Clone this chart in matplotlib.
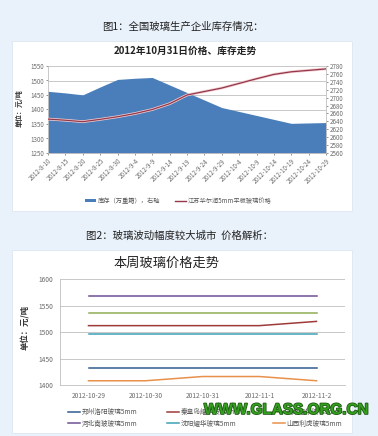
import matplotlib
matplotlib.use('Agg')
import matplotlib.pyplot as plt
from matplotlib.patches import Rectangle
from matplotlib.lines import Line2D
import matplotlib.patheffects as pe

plt.rcParams['font.family'] = ['Noto Sans CJK SC', 'DejaVu Sans']

# ---- data: chart 1 ----
dates1 = ['2012-8-10', '2012-8-15', '2012-8-20', '2012-8-25', '2012-8-30',
          '2012-9-4', '2012-9-9', '2012-9-14', '2012-9-19', '2012-9-24',
          '2012-9-29', '2012-10-4', '2012-10-9', '2012-10-14', '2012-10-19',
          '2012-10-24', '2012-10-29']
stock = [2716, 2712, 2707, 2727, 2746, 2749, 2751, 2732, 2713, 2694,
         2675, 2665, 2655, 2645, 2635, 2636, 2637]
price_js = [1367, 1363, 1358, 1366, 1375, 1386, 1400, 1420, 1450, 1462,
            1474, 1490, 1506, 1521, 1530, 1535, 1540]
left_ticks1 = [1250, 1300, 1350, 1400, 1450, 1500, 1550]
right_ticks1 = [2560, 2580, 2600, 2620, 2640, 2660, 2680, 2700, 2720, 2740, 2760, 2780]

# ---- data: chart 2 ----
dates2 = ['2012-10-29', '2012-10-30', '2012-10-31', '2012-11-1', '2012-11-2']
names2 = ['郑州洛阳玻璃5mm', '秦皇岛耀华玻璃5mm', '天津耀华玻璃5mm',
          '河北南玻玻璃5mm', '沈阳耀华玻璃5mm', '山西利虎玻璃5mm']
zz_luoyang = [1432, 1432, 1432, 1432, 1432]
qhd_yaohua = [1512, 1512, 1512, 1512, 1520]
tj_yaohua = [1536, 1536, 1536, 1536, 1536]
hb_nanbo = [1568, 1568, 1568, 1568, 1568]
sy_yaohua = [1496, 1496, 1496, 1496, 1496]
sx_lihu = [1408, 1408, 1416, 1416, 1408]
colors2 = ['#2F5C8F', '#9E3B3A', '#8FAE55', '#6E4F93', '#3FA0B5', '#E8914A']
left_ticks2 = [1400, 1450, 1500, 1550, 1600]

W, H = 378, 436
def fx(x): return x / W
def fy(y): return 1 - y / H
def box(x0, y0, x1, y1): return [fx(x0), fy(y1), (x1 - x0) / W, (y1 - y0) / H]

fig = plt.figure(figsize=(W / 100, H / 100), dpi=100)
fig.patch.set_facecolor('#E9F1FA')

# white panels
for (x0, y0, x1, y1) in [(12, 41, 352, 211), (12, 250, 352, 433)]:
    fig.patches.append(Rectangle((fx(x0), fy(y1)), (x1 - x0) / W, (y1 - y0) / H,
                                 transform=fig.transFigure, facecolor='white',
                                 edgecolor='#DDE6EF', lw=0.6, zorder=-5))

tick_col = '#6B6B6B'
grid_col = '#BFBFBF'

fig.text(fx(183), fy(27), '图1：全国玻璃生产企业库存情况：', ha='center', va='center',
         fontsize=7.5, color='#222222')
fig.text(fx(185), fy(51), '2012年10月31日价格、库存走势', ha='center', va='center',
         fontsize=7, fontweight='bold', color='#222222')

# ---- chart 1 ----
ax_a = fig.add_axes(box(48, 66, 326, 153))
ax_a.set_facecolor('none')
x1 = list(range(len(dates1)))
for v in left_ticks1[1:]:
    f = (v - left_ticks1[0]) / (left_ticks1[-1] - left_ticks1[0])
    ax_a.plot([0, 1], [f, f], transform=ax_a.transAxes, color=grid_col, lw=0.6, zorder=0)
ax_a.fill_between(x1, right_ticks1[0], stock, color='#4A7EBB', lw=0, zorder=2)
ax_a.set_xlim(0, len(dates1) - 1)
ax_a.set_ylim(right_ticks1[0], right_ticks1[-1])

ax_p = ax_a.twinx()
ax_p.plot(x1, price_js, color='#F3CDD1', lw=2.0, zorder=3)
ax_p.plot(x1, price_js, color='#93374A', lw=0.9, zorder=4)
ax_p.set_ylim(left_ticks1[0], left_ticks1[-1])

# inventory on the right axis, price on the left (twinx flips both by default)
ax_a.yaxis.tick_right()
ax_p.yaxis.tick_left()
ax_a.set_yticks(right_ticks1)
ax_p.set_yticks(left_ticks1)
ax_a.set_xticks(x1)
ax_a.set_xticklabels(dates1, rotation=45, ha='right', rotation_mode='anchor')
ax_a.tick_params(axis='both', labelsize=4.5, colors=tick_col, length=1.5, width=0.5, pad=1.5)
ax_p.tick_params(axis='y', labelsize=4.5, colors=tick_col, length=1.5, width=0.5, pad=1.5)
for s in ['top', 'left']:
    ax_a.spines[s].set_visible(False)
for s in ['right', 'bottom']:
    ax_a.spines[s].set_color(grid_col)
    ax_a.spines[s].set_linewidth(0.6)
for s in ['top', 'right', 'bottom']:
    ax_p.spines[s].set_visible(False)
ax_p.spines['left'].set_visible(True)
ax_p.spines['left'].set_color(grid_col)
ax_p.spines['left'].set_linewidth(0.6)
fig.text(fx(19), fy(108), '单位：元/吨', rotation=90, ha='center', va='center',
         fontsize=5, fontweight='bold', color='#333333')

h1 = [Rectangle((0, 0), 1, 1, facecolor='#4A7EBB'),
      Line2D([], [], color='#93374A', lw=1.0)]
fig.legend(h1, ['库存（万重箱），右轴', '江苏华尔润5mm平板玻璃价格'],
           loc='center', bbox_to_anchor=(fx(178), fy(201)), ncol=2, frameon=False,
           fontsize=4.5, labelcolor='#555555', handlelength=1.8, handleheight=0.4,
           columnspacing=2.4, handletextpad=0.2)

# ---- chart 2 ----
fig.text(fx(180), fy(236), '图2：玻璃波动幅度较大城市  价格解析：', ha='center', va='center',
         fontsize=7.5, color='#222222')
fig.text(fx(167), fy(263), '本周玻璃价格走势', ha='center', va='center',
         fontsize=9.5, color='#222222')

ax2 = fig.add_axes(box(60, 279, 345, 385))
ax2.set_facecolor('none')
x2 = list(range(len(dates2)))
series2 = [zz_luoyang, qhd_yaohua, tj_yaohua, hb_nanbo, sy_yaohua, sx_lihu]
lines2 = []
for vals, c in zip(series2, colors2):
    ln, = ax2.plot(x2, vals, color=c, lw=1.1, zorder=3)
    lines2.append(ln)
ax2.set_xlim(-0.5, len(dates2) - 0.5)
ax2.set_ylim(left_ticks2[0], left_ticks2[-1])
ax2.set_yticks(left_ticks2)
ax2.set_xticks(x2)
ax2.set_xticklabels(dates2)
ax2.yaxis.grid(True, color=grid_col, lw=0.6)
ax2.set_axisbelow(True)
ax2.tick_params(axis='both', labelsize=4.8, colors=tick_col, length=0, pad=5)
for s in ['top', 'right']:
    ax2.spines[s].set_visible(False)
for s in ['left', 'bottom']:
    ax2.spines[s].set_color(grid_col)
    ax2.spines[s].set_linewidth(0.6)
fig.text(fx(26), fy(327), '单位：元/吨', rotation=90, ha='center', va='center',
         fontsize=6, fontweight='bold', color='#333333')

# Excel fills the legend row by row, matplotlib column by column
order = [0, 3, 1, 4, 2, 5]
fig.legend([lines2[i] for i in order], [names2[i] for i in order],
           loc='center', bbox_to_anchor=(fx(205), fy(418)), ncol=3, frameon=False,
           fontsize=4.8, labelcolor='#555555', handlelength=1.8,
           columnspacing=4.5, handletextpad=0.2, labelspacing=0.5)

fig.text(fx(286), fy(410), 'WWW.GLASS.ORG.CN', ha='center', va='center',
         fontsize=11, fontweight='bold', family='Liberation Sans', color='#35A020',
         path_effects=[pe.withStroke(linewidth=1.2, foreground='#1D5A12')], zorder=10)

fig.savefig('out.png', dpi=100, facecolor=fig.get_facecolor())
